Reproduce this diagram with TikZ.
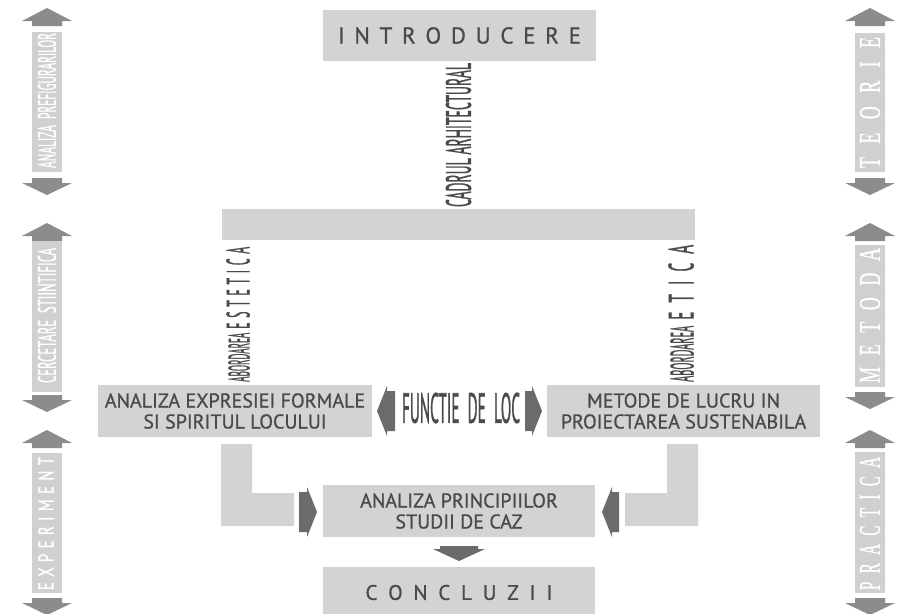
\documentclass[tikz,border=0pt]{standalone}
\usepackage{fontspec}
\setmainfont{PT Sans}
\newfontfamily\boxf[FakeBold=0.8]{PT Sans}
\newfontfamily\medf[FakeBold=1.5]{PT Sans}
\newfontfamily\serifw[FakeBold=1.2]{Liberation Serif}
\definecolor{boxgray}{HTML}{D3D3D3}
\definecolor{txtgray}{HTML}{4A4A4A}
\definecolor{sidegray}{HTML}{8C8C8C}
\definecolor{arrgray}{HTML}{6B6B6B}
\definecolor{bargray}{HTML}{D0D0D0}
\newcommand\sideup[2]{\fill[sidegray] (#1,#2) -- ++(25,13) -- ++(-10,0) -- ++(0,5) -- ++(-30,0) -- ++(0,-5) -- ++(-10,0) -- cycle;}
\newcommand\sidedown[2]{\fill[sidegray] (#1,#2+17) -- ++(25,-12) -- ++(-10,0) -- ++(0,-5) -- ++(-30,0) -- ++(0,5) -- ++(-10,0) -- cycle;}
% squeezed text: width, height, font size, content
\newcommand\sqz[4]{\resizebox{#1}{#2}{\fontsize{#3}{#3}\selectfont #4}}
\tikzset{
  panel/.style={fill=boxgray, draw=none, inner sep=0pt, text=txtgray,
    font=\boxf\fontsize{20}{21}\selectfont, align=center},
  sidebar/.style={fill=bargray, inner sep=0pt, minimum width=30pt},
  sidetext/.style={rotate=90, inner sep=0pt, text=white},
  vlabel/.style={rotate=90, inner sep=0pt, text=txtgray},
  darrow/.style={fill=arrgray},
  bracket/.style={fill=boxgray},
}
\begin{document}
\begin{tikzpicture}[x=1pt,y=-1pt]
\useasboundingbox (0,0) rectangle (901,613);
\fill[white] (0,0) rectangle (901,613);

% central boxes
\node[panel, minimum width=273pt, minimum height=51pt, font=\boxf\fontsize{23}{23}\selectfont] (intro) at (459.5,35.5)
  {\makebox[243pt]{I\hfill N\hfill T\hfill R\hfill O\hfill D\hfill U\hfill C\hfill E\hfill R\hfill E}};
\node[fill=boxgray, inner sep=0pt, minimum width=473pt, minimum height=31pt] (bar) at (458.5,224.5) {};
\node[vlabel] (cadrul) at (458.5,135) {\sqz{144pt}{25pt}{36}{\medf CADRUL ARHITECTURAL}};

\node[vlabel, anchor=south west] (estetica) at (250,382)
  {\sqz{49pt}{21pt}{30}{\medf ABORDAREA}\hspace{4pt}\sqz{82pt}{23pt}{33}{\medf\makebox[228pt]{E\hfill S\hfill T\hfill E\hfill T\hfill I\hfill C\hfill A}}};
\node[vlabel, anchor=south west] (etica) at (694,382)
  {\sqz{56pt}{23pt}{33}{\medf ABORDAREA}\hspace{6pt}\sqz{75pt}{25pt}{36}{\medf\makebox[175pt]{E\hfill T\hfill I\hfill C\hfill A}}};

\node[panel, minimum width=274pt, minimum height=52pt] (left) at (235,411)
  {ANALIZA EXPRESIEI FORMALE\\SI SPIRITUL LOCULUI};
\node[panel, minimum width=273pt, minimum height=52pt] (right) at (683.5,411)
  {METODE DE LUCRU IN\\PROIECTAREA SUSTENABILA};
\node[inner sep=0pt, text=txtgray] (loc) at (461,408) {\sqz{118pt}{30pt}{42}{\medf FUNCTIE\ \ DE\ \ LOC}};

\node[panel, minimum width=272pt, minimum height=52pt] (princ) at (459,511)
  {ANALIZA PRINCIPIILOR\\STUDII DE CAZ};
\node[panel, minimum width=272pt, minimum height=51pt, font=\boxf\fontsize{21}{21}\selectfont] (concl) at (459,592.5)
  {\makebox[187pt]{C\hfill O\hfill N\hfill C\hfill L\hfill U\hfill Z\hfill I\hfill I}};

% arrows beside FUNCTIE DE LOC
\fill[darrow] (377,411) -- (387,386) -- (387,391) -- (395,391) -- (395,431) -- (387,431) -- (387,436) -- cycle;
\fill[darrow] (542,411) -- (532,386) -- (532,391) -- (525,391) -- (525,431) -- (532,431) -- (532,436) -- cycle;

% brackets
\fill[bracket] (221,444) -- (252,444) -- (252,493) -- (294,493) -- (294,526) -- (221,526) -- cycle;
\fill[bracket] (698,444) -- (667,444) -- (667,493) -- (625,493) -- (625,526) -- (698,526) -- cycle;

% arrows into principii
\fill[darrow] (317,512) -- (307,487) -- (307,492) -- (299,492) -- (299,532) -- (307,532) -- (307,537) -- cycle;
\fill[darrow] (602,512) -- (612,487) -- (612,492) -- (619,492) -- (619,532) -- (612,532) -- (612,537) -- cycle;
% down arrow
\fill[darrow] (440,546) -- (478,546) -- (478,549) -- (485,549) -- (459,561) -- (433,549) -- (440,549) -- cycle;

% left side column
\sideup{47}{8}
\node[sidebar, minimum height=140pt] (l1) at (47,102) {};
\node[sidetext] (l1t) at (47,100.5) {\sqz{135pt}{18pt}{26}{\medf ANALIZA\ \ PREFIGURARILOR}};
\sidedown{47}{178}
\sideup{47}{223}
\node[sidebar, minimum height=151pt] (l2) at (47,316.5) {};
\node[sidetext] (l2t) at (47,315.5) {\sqz{135pt}{18pt}{26}{\medf CERCETARE\ \ STIINTIFICA}};
\sidedown{47}{395}
\sideup{47}{430}
\node[sidebar, minimum height=140pt] (l3) at (47,523) {};
\node[sidetext] (l3t) at (46,523.5) {\sqz{133pt}{15pt}{21}{\medf\makebox[190pt]{E\hfill X\hfill P\hfill E\hfill R\hfill I\hfill M\hfill E\hfill N\hfill T}}};
\sidedown{47}{598}

% right side column
\sideup{870}{8}
\node[sidebar, minimum height=139pt] (r1) at (870,102.5) {};
\node[sidetext] (r1t) at (870,102.5) {\serifw\sqz{131pt}{20pt}{30}{\makebox[218pt]{T\hfill E\hfill O\hfill R\hfill I\hfill E}}};
\sidedown{870}{178}
\sideup{870}{223}
\node[sidebar, minimum height=142pt] (r2) at (870,316) {};
\node[sidetext] (r2t) at (870,315.5) {\serifw\sqz{135pt}{20pt}{30}{\makebox[225pt]{M\hfill E\hfill T\hfill O\hfill D\hfill A}}};
\sidedown{870}{392}
\sideup{870}{430}
\node[sidebar, minimum height=141pt] (r3) at (870,522.5) {};
\node[sidetext] (r3t) at (870,523.5) {\serifw\sqz{133pt}{20pt}{30}{\makebox[266pt]{P\hfill R\hfill A\hfill C\hfill T\hfill I\hfill C\hfill A}}};
\sidedown{870}{598}
\end{tikzpicture}
\end{document}
